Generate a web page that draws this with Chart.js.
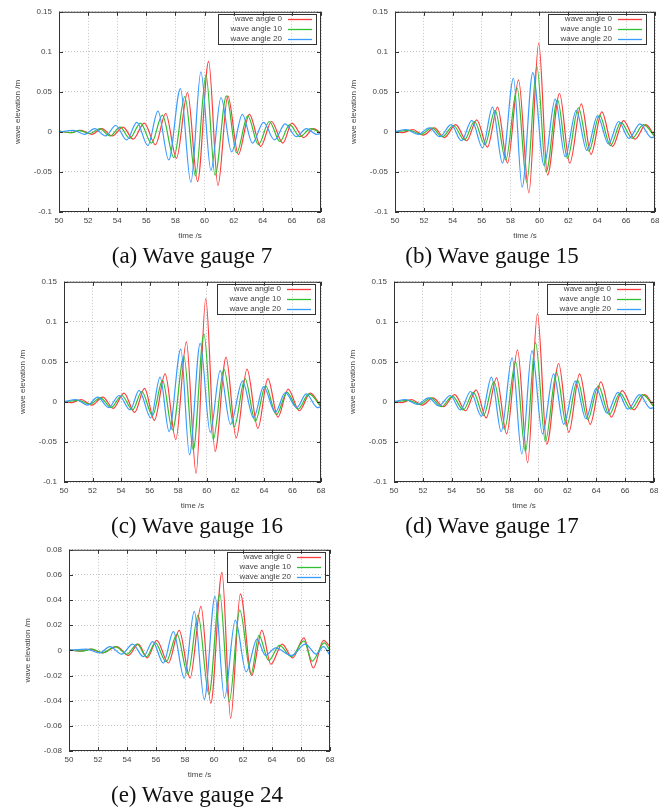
<!DOCTYPE html>
<html lang="en">
<head>
<meta charset="UTF-8">
<title>Wave elevation at gauges</title>
<style>
  * { margin: 0; padding: 0; box-sizing: border-box; }
  body { background: #fff; width: 667px; height: 809px; overflow: hidden; }
  #page { position: relative; width: 667px; height: 809px; }
  canvas { position: absolute; }
  .caption {
    position: absolute;
    font-family: 'Liberation Serif', 'Times New Roman', serif;
    font-size: 23px;
    color: #111;
    white-space: nowrap;
    transform: translate(-50%, -50%);
  }
</style>
</head>
<body>
<div id="page"></div>

<script src="https://cdn.jsdelivr.net/npm/chart.js"></script>
<script>
const seriesLabels = ['wave angle 0', 'wave angle 10', 'wave angle 20'];
const seriesColors = ['#ff3b3b', '#2fbf2f', '#3a9bff'];

// [time s, elevation m] read at each crest / trough

// (a) gauge 7
const g7_0 = [[50,0.001],[50.8,-0.001],[51.5,0.002],[52.25,-0.003],[52.95,0.004],[53.65,-0.005],[54.4,0.006],[55.1,-0.009],[55.86,0.011],[56.62,-0.016],[57.33,0.023],[58.07,-0.033],[58.83,0.049],[59.52,-0.062],[60.28,0.088],[60.92,-0.067],[61.6,0.045],[62.32,-0.028],[63.08,0.022],[63.86,-0.018],[64.6,0.013],[65.38,-0.014],[66.0,0.011],[66.8,-0.007],[67.5,0.004],[68,-0.002]];
const g7_10 = [[50,0.001],[50.9,-0.001],[51.4,0.002],[52.1,-0.002],[52.8,0.004],[53.5,-0.005],[54.2,0.006],[54.85,-0.008],[55.6,0.011],[56.35,-0.014],[57.1,0.021],[57.89,-0.032],[58.64,0.044],[59.38,-0.055],[60.1,0.071],[60.72,-0.054],[61.5,0.045],[62.2,-0.026],[62.97,0.020],[63.7,-0.016],[64.45,0.013],[65.18,-0.012],[65.85,0.009],[66.55,-0.006],[67.3,0.004],[68,-0.002]];
const g7_20 = [[50,0],[51.0,0.002],[51.75,-0.003],[52.45,0.004],[53.2,-0.005],[53.9,0.008],[54.65,-0.010],[55.35,0.012],[56.1,-0.017],[56.8,0.026],[57.54,-0.035],[58.34,0.054],[59.06,-0.063],[59.75,0.075],[60.44,-0.048],[61.13,0.043],[61.86,-0.025],[62.6,0.022],[63.29,-0.014],[64.05,0.012],[64.8,-0.010],[65.54,0.010],[66.3,-0.006],[67.0,0.004],[67.7,-0.003],[68,-0.002]];

// (b) gauge 15
const g15_0 = [[50,0.001],[50.5,-0.001],[51.22,0.003],[51.96,-0.004],[52.72,0.005],[53.42,-0.007],[54.2,0.009],[54.96,-0.011],[55.66,0.015],[56.4,-0.019],[57.1,0.031],[57.79,-0.039],[58.55,0.065],[59.27,-0.076],[59.95,0.111],[60.56,-0.054],[61.39,0.048],[62.1,-0.039],[62.9,0.035],[63.57,-0.028],[64.32,0.025],[65.06,-0.018],[65.82,0.014],[66.62,-0.009],[67.36,0.009],[68,-0.006]];
const g15_10 = [[50,0],[51.0,0.002],[51.8,-0.003],[52.55,0.005],[53.28,-0.006],[54.05,0.008],[54.8,-0.010],[55.5,0.013],[56.22,-0.016],[56.93,0.027],[57.67,-0.035],[58.45,0.055],[59.12,-0.063],[59.82,0.082],[60.46,-0.050],[61.25,0.040],[61.94,-0.033],[62.7,0.030],[63.42,-0.024],[64.16,0.021],[64.92,-0.017],[65.64,0.012],[66.42,-0.008],[67.2,0.009],[68,-0.006]];
const g15_20 = [[50,0],[50.76,0.003],[51.6,-0.003],[52.38,0.005],[53.1,-0.006],[53.88,0.009],[54.6,-0.011],[55.32,0.0145],[56.06,-0.020],[56.75,0.031],[57.44,-0.039],[58.2,0.067],[58.8,-0.069],[59.54,0.074],[60.32,-0.042],[61.09,0.041],[61.78,-0.031],[62.55,0.027],[63.28,-0.023],[64.02,0.020],[64.78,-0.015],[65.48,0.013],[66.2,-0.008],[66.96,0.010],[67.75,-0.007],[68,-0.006]];

// (c) gauge 16
const g16_0 = [[50,0.001],[50.5,-0.001],[51.2,0.003],[51.95,-0.004],[52.72,0.006],[53.45,-0.008],[54.2,0.011],[54.95,-0.013],[55.64,0.017],[56.33,-0.023],[57.08,0.035],[57.83,-0.047],[58.57,0.075],[59.25,-0.089],[59.93,0.129],[60.58,-0.062],[61.35,0.056],[62.06,-0.045],[62.82,0.041],[63.58,-0.033],[64.28,0.029],[64.98,-0.019],[65.7,0.016],[66.48,-0.011],[67.25,0.011],[68,-0.006]];
const g16_10 = [[50,0],[51.0,0.002],[51.8,-0.003],[52.55,0.005],[53.3,-0.007],[54.05,0.008],[54.8,-0.010],[55.45,0.013],[56.2,-0.017],[56.9,0.027],[57.6,-0.035],[58.4,0.057],[59.05,-0.060],[59.8,0.085],[60.45,-0.047],[61.2,0.041],[61.92,-0.031],[62.68,0.029],[63.4,-0.024],[64.12,0.020],[64.88,-0.016],[65.62,0.012],[66.4,-0.009],[67.15,0.010],[68,-0.006]];
const g16_20 = [[50,0],[50.84,0.003],[51.64,-0.004],[52.36,0.006],[53.13,-0.007],[53.86,0.008],[54.63,-0.010],[55.26,0.0145],[56.08,-0.020],[56.73,0.031],[57.36,-0.037],[58.18,0.066],[58.79,-0.066],[59.54,0.073],[60.24,-0.038],[60.94,0.039],[61.66,-0.028],[62.5,0.026],[63.28,-0.020],[63.98,0.019],[64.8,-0.013],[65.5,0.0115],[66.3,-0.007],[66.97,0.010],[67.75,-0.007],[68,-0.006]];

// (d) gauge 17
const g17_0 = [[50,0.001],[50.5,-0.001],[51.2,0.003],[51.95,-0.004],[52.7,0.005],[53.42,-0.006],[54.2,0.009],[54.95,-0.011],[55.68,0.015],[56.38,-0.020],[57.1,0.030],[57.8,-0.040],[58.55,0.065],[59.25,-0.076],[59.93,0.110],[60.58,-0.053],[61.4,0.048],[62.1,-0.038],[62.85,0.035],[63.58,-0.028],[64.32,0.025],[65.05,-0.019],[65.8,0.014],[66.6,-0.010],[67.35,0.009],[68,-0.006]];
const g17_10 = [[50,0],[51.0,0.002],[51.8,-0.003],[52.55,0.005],[53.28,-0.006],[54.05,0.007],[54.8,-0.010],[55.5,0.012],[56.2,-0.017],[56.92,0.025],[57.65,-0.034],[58.42,0.050],[59.1,-0.062],[59.8,0.074],[60.48,-0.049],[61.25,0.037],[61.95,-0.030],[62.7,0.027],[63.42,-0.022],[64.15,0.020],[64.9,-0.016],[65.65,0.011],[66.4,-0.009],[67.2,0.009],[68,-0.006]];
const g17_20 = [[50,0],[50.8,0.003],[51.6,-0.003],[52.4,0.005],[53.1,-0.005],[53.9,0.008],[54.6,-0.010],[55.3,0.013],[56.05,-0.018],[56.75,0.031],[57.42,-0.037],[58.18,0.055],[58.85,-0.065],[59.55,0.064],[60.28,-0.040],[61.05,0.035],[61.75,-0.028],[62.55,0.026],[63.28,-0.021],[64.0,0.017],[64.75,-0.014],[65.5,0.012],[66.2,-0.009],[67.0,0.009],[67.75,-0.008],[68,-0.007]];

// (e) gauge 24
const g24_0 = [[50,0.0005],[50.8,-0.0005],[51.5,0.001],[52.3,-0.002],[53.3,0.003],[54.1,-0.004],[54.78,0.005],[55.4,-0.006],[56.05,0.008],[56.85,-0.010],[57.6,0.016],[58.35,-0.022],[59.1,0.035],[59.78,-0.042],[60.55,0.062],[61.15,-0.054],[61.82,0.045],[62.6,-0.020],[63.3,0.016],[63.92,-0.011],[64.7,0.005],[65.42,-0.006],[66.2,0.010],[66.85,-0.014],[67.55,0.008],[68,0.003]];
const g24_10 = [[50,0.0005],[50.9,-0.0005],[51.6,0.001],[52.3,-0.002],[53.2,0.003],[54.0,-0.003],[54.7,0.005],[55.35,-0.005],[55.95,0.006],[56.7,-0.009],[57.45,0.013],[58.2,-0.019],[58.9,0.028],[59.65,-0.035],[60.4,0.045],[61.05,-0.041],[61.78,0.032],[62.55,-0.019],[63.1,0.012],[63.77,-0.008],[64.52,0.004],[65.33,-0.005],[66.2,0.0075],[66.77,-0.0085],[67.6,0.006],[68,0]];
const g24_20 = [[50,0],[51.2,0.001],[52.1,-0.002],[52.83,0.003],[53.63,-0.003],[54.39,0.005],[55.13,-0.005],[55.77,0.007],[56.5,-0.010],[57.2,0.015],[57.95,-0.022],[58.64,0.031],[59.33,-0.039],[60.07,0.043],[60.72,-0.038],[61.47,0.024],[62.22,-0.017],[62.97,0.009],[63.55,-0.004],[64.25,0.002],[65.35,-0.004],[66.3,0.005],[67.05,-0.003],[67.55,0.003],[68,-0.004]];

const timeTicks = { min: 50, max: 68, step: 2 };
const elevTicksA = { min: -0.1, max: 0.15, step: 0.05 };
const elevTicksE = { min: -0.08, max: 0.08, step: 0.02 };

const panels = [
  { caption: '(a) Wave gauge 7',  series: [g7_0, g7_10, g7_20],    y: elevTicksA, left: 0,   top: 0,   w: 333, h: 245, inset: 5, cx: 192, cy: 256 },
  { caption: '(b) Wave gauge 15', series: [g15_0, g15_10, g15_20], y: elevTicksA, left: 336, top: 0,   w: 331, h: 245, inset: 9, cx: 492, cy: 256 },
  { caption: '(c) Wave gauge 16', series: [g16_0, g16_10, g16_20], y: elevTicksA, left: 5,   top: 270, w: 328, h: 245, inset: 6, cx: 197, cy: 526 },
  { caption: '(d) Wave gauge 17', series: [g17_0, g17_10, g17_20], y: elevTicksA, left: 335, top: 270, w: 331, h: 245, inset: 9, cx: 492, cy: 526 },
  { caption: '(e) Wave gauge 24', series: [g24_0, g24_10, g24_20], y: elevTicksE, left: 10,  top: 538, w: 332, h: 246, inset: 5, cx: 197, cy: 795 }
];

const textColor = '#444';
const smallFont = { family: "'Liberation Sans', Arial, sans-serif", size: 8 };

// gnuplot-like border, inward ticks and boxed key
const framePlugin = {
  id: 'frame',
  afterDatasetsDraw(chart, args, opts) {
    const { ctx, chartArea: a, scales } = chart;
    ctx.save();
    ctx.strokeStyle = '#333';
    ctx.lineWidth = 1;
    ctx.strokeRect(a.left + 0.5, a.top + 0.5, a.right - a.left - 1, a.bottom - a.top - 1);

    ctx.beginPath();
    scales.x.ticks.forEach(t => {
      const x = Math.round(scales.x.getPixelForValue(t.value)) + 0.5;
      ctx.moveTo(x, a.bottom); ctx.lineTo(x, a.bottom - 4);
      ctx.moveTo(x, a.top); ctx.lineTo(x, a.top + 4);
    });
    scales.y.ticks.forEach(t => {
      const y = Math.round(scales.y.getPixelForValue(t.value)) + 0.5;
      ctx.moveTo(a.left, y); ctx.lineTo(a.left + 4, y);
      ctx.moveTo(a.right, y); ctx.lineTo(a.right - 4, y);
    });
    ctx.stroke();

    // key, listed in series order (datasets are stored reversed so angle 20 draws on top)
    const bw = 98, bh = 30;
    const bx = Math.round(a.right - opts.inset - bw), by = Math.round(a.top + 2);
    ctx.strokeRect(bx + 0.5, by + 0.5, bw, bh);
    ctx.font = "8px 'Liberation Sans', Arial, sans-serif";
    ctx.textAlign = 'right';
    ctx.textBaseline = 'middle';
    chart.data.datasets.slice().reverse().forEach((ds, i) => {
      const y = by + 5 + i * 10;
      ctx.fillStyle = textColor;
      ctx.fillText(ds.label, bx + bw - 34, y);
      ctx.strokeStyle = ds.borderColor;
      ctx.lineWidth = 1.3;
      ctx.beginPath();
      ctx.moveTo(bx + bw - 28, y + 0.5);
      ctx.lineTo(bx + bw - 4, y + 0.5);
      ctx.stroke();
    });
    ctx.restore();
  }
};

const page = document.getElementById('page');

panels.forEach(p => {
  const canvas = document.createElement('canvas');
  canvas.width = p.w;
  canvas.height = p.h;
  canvas.style.left = p.left + 'px';
  canvas.style.top = p.top + 'px';
  page.appendChild(canvas);

  const cap = document.createElement('div');
  cap.className = 'caption';
  cap.textContent = p.caption;
  cap.style.left = p.cx + 'px';
  cap.style.top = p.cy + 'px';
  page.appendChild(cap);

  new Chart(canvas, {
    type: 'line',
    data: {
      datasets: p.series.map((s, i) => ({
        label: seriesLabels[i],
        data: s.map(([t, v]) => ({ x: t, y: v })),
        borderColor: seriesColors[i],
        borderWidth: 1.2,
        pointRadius: 0,
        fill: false,
        cubicInterpolationMode: 'monotone'
      })).reverse()
    },
    options: {
      responsive: false,
      animation: false,
      devicePixelRatio: 1,
      events: [],
      layout: { padding: { left: 0, right: 12, top: 9, bottom: 0 } },
      plugins: {
        legend: { display: false },
        tooltip: { enabled: false },
        frame: { inset: p.inset }
      },
      scales: {
        x: {
          type: 'linear',
          min: timeTicks.min,
          max: timeTicks.max,
          afterFit: s => { s.height = 33; },
          ticks: { stepSize: timeTicks.step, padding: 4, color: textColor, font: smallFont, maxRotation: 0, autoSkip: false },
          grid: { color: '#c4c4c4', drawTicks: false },
          border: { display: false, dash: [1, 2] },
          title: { display: true, text: 'time /s', color: textColor, font: smallFont, padding: { top: 0, bottom: 4 } }
        },
        y: {
          min: p.y.min,
          max: p.y.max,
          afterFit: s => { s.width = 59; },
          ticks: {
            stepSize: p.y.step, padding: 7, color: textColor, font: smallFont, autoSkip: false,
            callback: v => String(+v.toFixed(3))
          },
          grid: { color: '#c4c4c4', drawTicks: false },
          border: { display: false, dash: [1, 2] },
          title: { display: true, text: 'wave elevation /m', color: textColor, font: smallFont, padding: { top: 13, bottom: 0 } }
        }
      }
    },
    plugins: [framePlugin]
  });
});
</script>
</body>
</html>
